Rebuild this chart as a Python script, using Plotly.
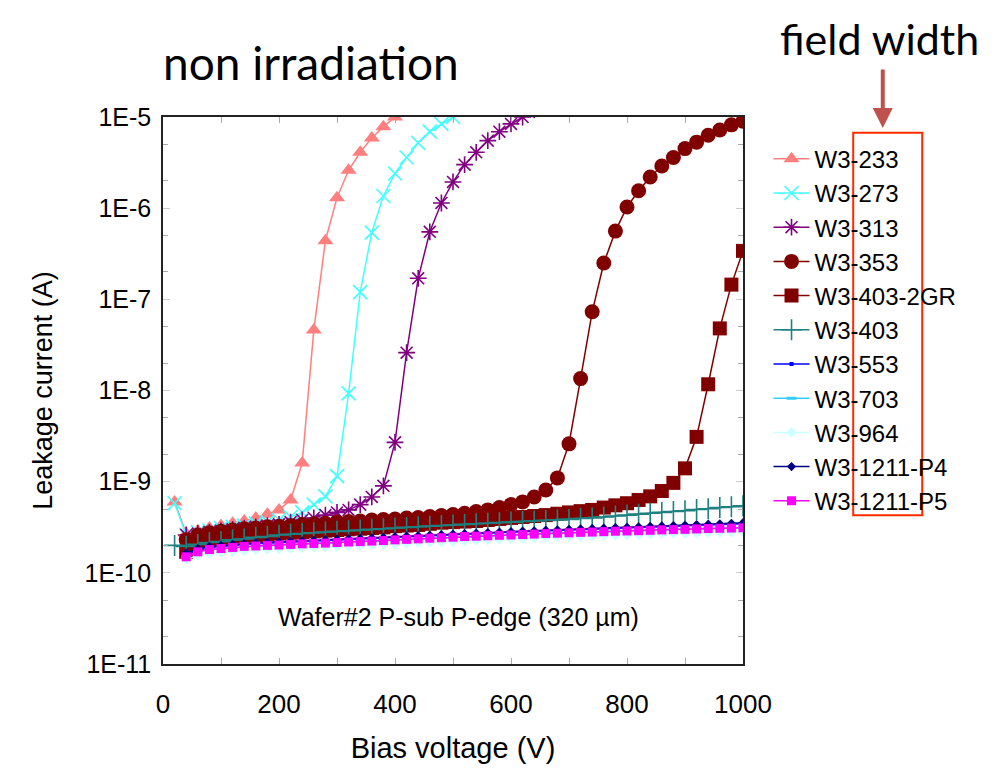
import plotly.graph_objects as go

# ---------------- data ----------------
v_233 = list(range(20, 421, 20))
i_233 = [6.0e-10, 2.7e-10, 2.9e-10, 3.1e-10, 3.3e-10, 3.5e-10, 3.7e-10, 4.0e-10, 4.4e-10, 4.9e-10,
         6.3e-10, 1.6e-9, 4.6e-8, 4.4e-7, 1.3e-6, 2.6e-6, 4.1e-6, 5.9e-6, 7.8e-6, 1.0e-5, 1.25e-5]

v_273 = list(range(20, 521, 20))
i_273 = [5.8e-10, 2.6e-10, 2.8e-10, 2.9e-10, 3.1e-10, 3.2e-10, 3.3e-10, 3.5e-10, 3.6e-10, 3.8e-10,
         4.1e-10, 4.6e-10, 5.6e-10, 6.9e-10, 1.15e-9, 9.3e-9, 1.2e-7, 5.4e-7, 1.36e-6, 2.4e-6,
         3.6e-6, 5.2e-6, 6.9e-6, 8.4e-6, 1.0e-5, 1.2e-5]

v_313 = list(range(40, 641, 20))
i_313 = [2.6e-10, 2.7e-10, 2.8e-10, 2.9e-10, 3.0e-10, 3.1e-10, 3.2e-10, 3.3e-10, 3.4e-10, 3.6e-10,
         3.8e-10, 4.0e-10, 4.3e-10, 4.6e-10, 4.9e-10, 5.6e-10, 6.8e-10, 9.0e-10, 2.7e-9, 2.6e-8,
         1.7e-7, 5.5e-7, 1.14e-6, 1.94e-6, 3.0e-6, 4.1e-6, 5.5e-6, 6.9e-6, 8.4e-6, 1.0e-5, 1.2e-5]

v_353 = list(range(40, 1001, 20))
i_353 = [2.3e-10, 2.6e-10, 2.75e-10, 2.85e-10, 2.95e-10, 3.05e-10, 3.1e-10, 3.2e-10, 3.25e-10, 3.3e-10,
         3.4e-10, 3.45e-10, 3.5e-10, 3.6e-10, 3.65e-10, 3.7e-10, 3.8e-10, 3.85e-10, 3.9e-10, 4.0e-10,
         4.05e-10, 4.15e-10, 4.25e-10, 4.35e-10, 4.5e-10, 4.7e-10, 4.9e-10, 5.2e-10, 5.6e-10, 6.0e-10,
         6.8e-10, 8.1e-10, 1.1e-9, 2.6e-9, 1.35e-8, 7.3e-8, 2.5e-7, 5.6e-7, 1.03e-6, 1.55e-6,
         2.2e-6, 2.9e-6, 3.6e-6, 4.5e-6, 5.3e-6, 6.3e-6, 7.2e-6, 8.2e-6, 9.0e-6]

v_2gr = list(range(40, 1001, 20))
i_2gr = [1.7e-10, 2.1e-10, 2.3e-10, 2.4e-10, 2.5e-10, 2.55e-10, 2.6e-10, 2.65e-10, 2.7e-10, 2.75e-10,
         2.8e-10, 2.85e-10, 2.9e-10, 2.95e-10, 3.0e-10, 3.05e-10, 3.1e-10, 3.15e-10, 3.25e-10, 3.3e-10,
         3.35e-10, 3.45e-10, 3.55e-10, 3.6e-10, 3.65e-10, 3.7e-10, 3.8e-10, 3.9e-10, 4.0e-10, 4.1e-10,
         4.2e-10, 4.3e-10, 4.45e-10, 4.6e-10, 4.75e-10, 4.9e-10, 5.2e-10, 5.5e-10, 5.8e-10, 6.3e-10,
         6.9e-10, 7.9e-10, 9.7e-10, 1.4e-9, 3.1e-9, 1.17e-8, 4.8e-8, 1.45e-7, 3.4e-7]

v_403 = list(range(20, 1001, 20))
i_403 = [2.0e-10, 1.95e-10, 2.05e-10, 2.15e-10, 2.2e-10, 2.3e-10, 2.35e-10, 2.45e-10, 2.5e-10, 2.6e-10,
         2.65e-10, 2.7e-10, 2.75e-10, 2.8e-10, 2.85e-10, 2.9e-10, 2.95e-10, 3.0e-10, 3.05e-10, 3.1e-10,
         3.15e-10, 3.2e-10, 3.25e-10, 3.3e-10, 3.35e-10, 3.4e-10, 3.45e-10, 3.5e-10, 3.55e-10, 3.6e-10,
         3.65e-10, 3.7e-10, 3.75e-10, 3.8e-10, 3.85e-10, 3.95e-10, 4.0e-10, 4.1e-10, 4.2e-10, 4.3e-10,
         4.4e-10, 4.5e-10, 4.6e-10, 4.7e-10, 4.8e-10, 4.95e-10, 5.05e-10, 5.2e-10, 5.3e-10, 5.45e-10]

v_low = list(range(40, 1001, 20))
i_553 = [1.6e-10, 1.8e-10, 1.9e-10, 1.95e-10, 2.0e-10, 2.05e-10, 2.08e-10, 2.11e-10, 2.14e-10, 2.17e-10,
         2.2e-10, 2.23e-10, 2.26e-10, 2.29e-10, 2.32e-10, 2.35e-10, 2.38e-10, 2.41e-10, 2.45e-10, 2.48e-10,
         2.51e-10, 2.55e-10, 2.58e-10, 2.62e-10, 2.65e-10, 2.68e-10, 2.72e-10, 2.75e-10, 2.79e-10, 2.82e-10,
         2.85e-10, 2.89e-10, 2.92e-10, 2.95e-10, 2.99e-10, 3.02e-10, 3.05e-10, 3.09e-10, 3.12e-10, 3.15e-10,
         3.19e-10, 3.22e-10, 3.25e-10, 3.28e-10, 3.31e-10, 3.34e-10, 3.37e-10, 3.4e-10, 3.45e-10]
i_703 = [1.5e-10, 1.7e-10, 1.8e-10, 1.85e-10, 1.9e-10, 1.95e-10, 1.97e-10, 2.0e-10, 2.02e-10, 2.05e-10,
         2.08e-10, 2.1e-10, 2.12e-10, 2.15e-10, 2.18e-10, 2.2e-10, 2.23e-10, 2.26e-10, 2.3e-10, 2.33e-10,
         2.36e-10, 2.4e-10, 2.43e-10, 2.46e-10, 2.5e-10, 2.52e-10, 2.55e-10, 2.58e-10, 2.6e-10, 2.63e-10,
         2.66e-10, 2.7e-10, 2.72e-10, 2.75e-10, 2.78e-10, 2.8e-10, 2.83e-10, 2.86e-10, 2.88e-10, 2.9e-10,
         2.93e-10, 2.96e-10, 2.98e-10, 3.0e-10, 3.03e-10, 3.06e-10, 3.08e-10, 3.1e-10, 3.12e-10]
i_964 = [1.4e-10, 1.55e-10, 1.62e-10, 1.67e-10, 1.71e-10, 1.75e-10, 1.78e-10, 1.8e-10, 1.82e-10, 1.84e-10,
         1.87e-10, 1.89e-10, 1.91e-10, 1.93e-10, 1.96e-10, 1.98e-10, 2.0e-10, 2.03e-10, 2.06e-10, 2.09e-10,
         2.12e-10, 2.15e-10, 2.18e-10, 2.21e-10, 2.24e-10, 2.26e-10, 2.29e-10, 2.32e-10, 2.34e-10, 2.37e-10,
         2.4e-10, 2.43e-10, 2.45e-10, 2.48e-10, 2.5e-10, 2.52e-10, 2.55e-10, 2.57e-10, 2.59e-10, 2.61e-10,
         2.64e-10, 2.66e-10, 2.68e-10, 2.7e-10, 2.72e-10, 2.75e-10, 2.77e-10, 2.79e-10, 2.81e-10]
i_p4 = [1.65e-10, 1.85e-10, 1.95e-10, 2.0e-10, 2.05e-10, 2.1e-10, 2.13e-10, 2.16e-10, 2.19e-10, 2.22e-10,
        2.25e-10, 2.28e-10, 2.31e-10, 2.34e-10, 2.37e-10, 2.4e-10, 2.43e-10, 2.46e-10, 2.5e-10, 2.53e-10,
        2.56e-10, 2.6e-10, 2.63e-10, 2.67e-10, 2.7e-10, 2.73e-10, 2.77e-10, 2.8e-10, 2.84e-10, 2.87e-10,
        2.9e-10, 2.94e-10, 2.97e-10, 3.0e-10, 3.04e-10, 3.07e-10, 3.1e-10, 3.14e-10, 3.17e-10, 3.2e-10,
        3.24e-10, 3.27e-10, 3.3e-10, 3.34e-10, 3.38e-10, 3.42e-10, 3.46e-10, 3.5e-10, 3.55e-10]
i_p5 = [1.5e-10, 1.7e-10, 1.8e-10, 1.85e-10, 1.9e-10, 1.95e-10, 1.97e-10, 2.0e-10, 2.02e-10, 2.05e-10,
        2.08e-10, 2.1e-10, 2.12e-10, 2.15e-10, 2.18e-10, 2.2e-10, 2.23e-10, 2.26e-10, 2.3e-10, 2.33e-10,
        2.36e-10, 2.4e-10, 2.43e-10, 2.46e-10, 2.5e-10, 2.52e-10, 2.55e-10, 2.58e-10, 2.6e-10, 2.63e-10,
        2.66e-10, 2.7e-10, 2.72e-10, 2.75e-10, 2.78e-10, 2.8e-10, 2.83e-10, 2.86e-10, 2.88e-10, 2.9e-10,
        2.93e-10, 2.96e-10, 2.98e-10, 3.0e-10, 3.03e-10, 3.06e-10, 3.08e-10, 3.1e-10, 3.12e-10]

x_ticks = [0, 200, 400, 600, 800, 1000]
y_tickvals = [1e-11, 1e-10, 1e-9, 1e-8, 1e-7, 1e-6, 1e-5]
y_ticktext = ["1E-11", "1E-10", "1E-9", "1E-8", "1E-7", "1E-6", "1E-5"]

# ---------------- figure ----------------
ARIAL = "Liberation Sans, Arial, sans-serif"
CALIBRI = "Lato, Noto Sans, sans-serif"
fig = go.Figure()

series = [
    ("W3-233", v_233, i_233, "#FF7F7F", dict(symbol="triangle-up", size=14, color="#FF7F7F")),
    ("W3-273", v_273, i_273, "#40FFFF", dict(symbol="x-thin-open", size=14, color="#40FFFF",
                                             line=dict(color="#40FFFF", width=1.6))),
    ("W3-313", v_313, i_313, "#800080", dict(symbol="asterisk-open", size=14, color="#800080",
                                             line=dict(color="#800080", width=1.6))),
    ("W3-353", v_353, i_353, "#800000", dict(symbol="circle", size=15, color="#800000")),
    ("W3-403-2GR", v_2gr, i_2gr, "#800000", dict(symbol="square", size=14, color="#800000")),
    ("W3-403", v_403, i_403, "#1F8080", dict(symbol="cross-thin-open", size=15, color="#1F8080",
                                             line=dict(color="#1F8080", width=1.6))),
    ("W3-553", v_low, i_553, "#0000FF", dict(symbol="square", size=4, color="#0000FF")),
    ("W3-703", v_low, i_703, "#33CCFF", dict(symbol="line-ew-open", size=7, color="#33CCFF",
                                             line=dict(color="#33CCFF", width=3))),
    ("W3-964", v_low, i_964, "#CCFFFF", dict(symbol="diamond", size=8, color="#CCFFFF")),
    ("W3-1211-P4", v_low, i_p4, "#000080", dict(symbol="diamond", size=7, color="#000080")),
    ("W3-1211-P5", v_low, i_p5, "#FF00FF", dict(symbol="square", size=9, color="#FF00FF")),
]

for k, (name, xs, ys, col, mk) in enumerate(series):
    fig.add_trace(go.Scatter(
        x=xs, y=ys, name=name, mode="lines+markers",
        line=dict(color=col, width=1.5), marker=mk,
        legendgroup=f"g{k}", cliponaxis=True,
    ))

# page body has an 8px margin, so the figure is sized to fit inside the window
fig.update_layout(
    width=989, height=765,
    margin=dict(l=155, r=254, t=109, b=109),
    paper_bgcolor="white", plot_bgcolor="white",
    font=dict(family=ARIAL, size=24, color="black"),
    showlegend=True,
    legend=dict(
        x=1.044, y=0.964, xanchor="left", yanchor="top",
        font=dict(family=ARIAL, size=24, color="black"),
        itemwidth=36, tracegroupgap=0, bgcolor="rgba(0,0,0,0)",
    ),
)

fig.update_xaxes(
    range=[0, 1000], tickvals=x_ticks, ticktext=[str(t) for t in x_ticks],
    showgrid=False, zeroline=False, showline=True, linecolor="#222222", linewidth=1.5,
    mirror="ticks", ticks="inside", ticklen=6, tickcolor="#AAAAAA",
    minor=dict(dtick=100, ticks="inside", ticklen=6, tickcolor="#AAAAAA"),
    tickfont=dict(family=ARIAL, size=26), ticklabelstandoff=16,
    title=dict(text="Bias voltage (V)", font=dict(family=ARIAL, size=29), standoff=20),
)
fig.update_yaxes(
    type="log", range=[-11, -5], tickvals=y_tickvals, ticktext=y_ticktext,
    showgrid=False, showline=True, linecolor="#222222", linewidth=1.5,
    mirror="ticks", ticks="inside", ticklen=7, tickcolor="#CCCCCC",
    minor=dict(ticks="inside", ticklen=5, tickcolor="#AAAAAA", showgrid=False),
    tickfont=dict(family=ARIAL, size=25), ticklabelstandoff=5,
    title=dict(text="Leakage current (A)", font=dict(family=ARIAL, size=27), standoff=24),
)

# annotations
fig.add_annotation(text="non irradiation", xref="paper", yref="paper", x=0.255, y=1.1,
                   xanchor="center", yanchor="middle",
                   showarrow=False, font=dict(family=CALIBRI, size=46, color="black"))
fig.add_annotation(text="field width", xref="paper", yref="paper", x=1.235, y=1.143,
                   xanchor="center", yanchor="middle",
                   showarrow=False, font=dict(family=CALIBRI, size=43, color="black"))
fig.add_annotation(text="Wafer#2 P-sub P-edge (320 µm)", xref="paper", yref="paper", x=0.509, y=0.086,
                   xanchor="center", yanchor="middle",
                   showarrow=False, font=dict(family=ARIAL, size=25, color="black"))
fig.add_annotation(text="", xref="paper", yref="paper", x=1.241, y=0.98,
                   ax=0, ay=-60, showarrow=True, arrowhead=2, arrowsize=1, arrowwidth=4,
                   arrowcolor="#C0504D")
fig.add_shape(type="rect", xref="paper", yref="paper", x0=1.19, x1=1.309, y0=0.272, y1=0.971,
              line=dict(color="#FF2A00", width=2), fillcolor="rgba(0,0,0,0)")

fig.write_html("out.html")
